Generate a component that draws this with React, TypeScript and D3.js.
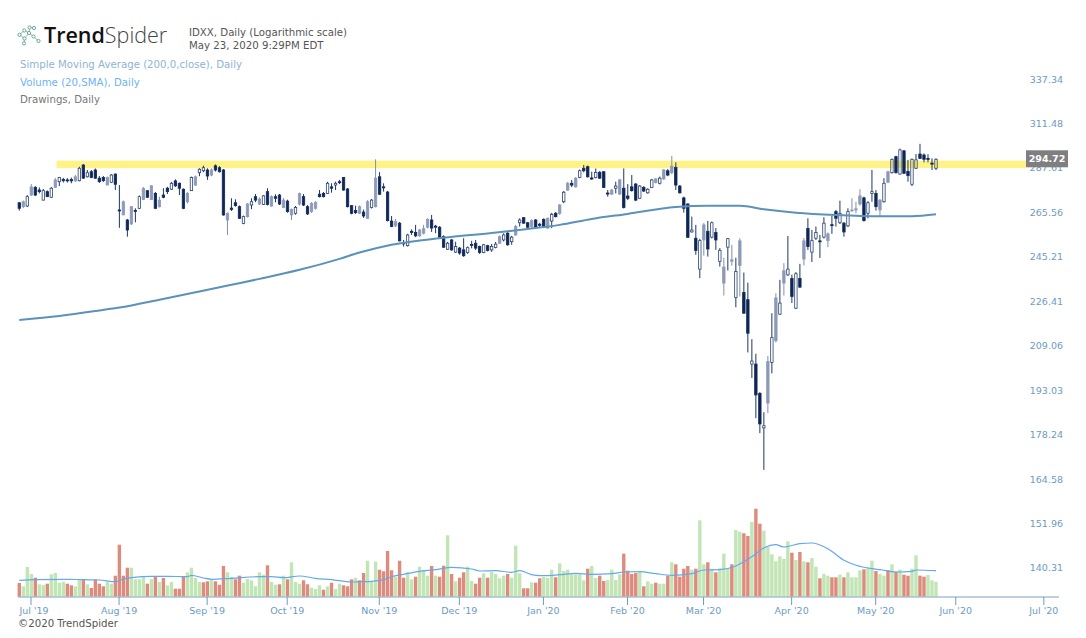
import { useEffect, useRef } from 'react';
import * as d3 from 'd3';

const width = 1086
const height = 638
const font = '"DejaVu Sans", sans-serif'

const priceTicks = [337.34, 311.48, 287.61, 265.56, 245.21, 226.41, 209.06, 193.03, 178.24, 164.58, 151.96, 140.31]
const monthLabels = ["Jul '19", "Aug '19", "Sep '19", "Oct '19", "Nov '19", "Dec '19", "Jan '20", "Feb '20", "Mar '20", "Apr '20", "May '20", "Jun '20", "Jul '20"]
const monthIndex = [3, 25, 47, 67, 90, 110, 131, 152, 171, 193, 214, 234, 256]

// drawn level (yellow band), price range
const levelTop = 294.0
const levelBottom = 290.1

const opens = [
  272.6, 270.7, 271.0, 276.4, 280.2, 278.9, 273.9, 278.1, 275.3, 280.2,
  283.1, 284.3, 284, 284.2, 283.5, 283.6, 291.7, 285.6, 288.2, 289.1,
  284.9, 285.2, 281.4, 282.8, 287, 269.1, 266.7, 264.3, 262.4, 268.9,
  269.9, 274.2, 278.6, 274.2, 277.2, 270.7, 276.4, 279.8, 279.3, 283.5,
  282.3, 279.3, 273.1, 278.6, 281.4, 287.7, 288.7, 289.1, 286.5, 291.3,
  290.3, 289.1, 264.3, 270, 272.6, 270.7, 262.7, 265.9, 271.5, 275.6,
  272, 271.8, 278.1, 271, 275.6, 276.4, 270.3, 273.4, 266.7, 267.5,
  272, 275.6, 270.7, 268.3, 269.9, 276.8, 277.2, 277.2, 280.5, 281.4,
  283.1, 285.2, 279.4, 271.2, 268.9, 267.5, 268.1, 265.1, 270.3, 270.7,
  285.6, 280.5, 277.9, 263.8, 261.5, 262.8, 253.7, 252.4, 259, 258.4,
  256.9, 258.1, 260.9, 264.3, 261.4, 260.9, 256.5, 250.8, 255, 249.5,
  251.3, 250.5, 249.3, 252.9, 253.5, 252, 249.3, 252.4, 250.5, 251.6,
  253.5, 255, 258.1, 254.2, 257.3, 263, 265.4, 263, 261.2, 264.3,
  262.3, 264.6, 260.5, 263.8, 267.5, 267.5, 273.1, 278.9, 282.3, 280.5,
  285.3, 290, 290.8, 285, 285.2, 287.9, 288.2, 277.4, 276.9, 279.8,
  276.9, 279.8, 275.9, 280.5, 281.9, 274.8, 280.2, 277.5, 280.2, 282.7,
  282.3, 284.5, 288.7, 287.7, 290.5, 280.9, 275, 272, 258.7, 255.8,
  242, 255, 259, 256.3, 258.4, 245.4, 236, 251.7, 245.4, 230,
  243.6, 232.1, 229.1, 204.1, 204.1, 193.6, 182, 190.3, 204.7, 212.8,
  223.2, 236, 239.5, 238, 225.6, 238, 246.4, 260.3, 249.5, 255.8,
  254.6, 256.3, 254.7, 262.1, 268.3, 263, 262.8, 261.5, 268.6, 269.1,
  272, 275, 267.5, 277.2, 277.2, 269.1, 273.1, 282.8, 287.7, 296.1,
  287, 299.2, 288.4, 281.8, 290, 297.5, 297, 295.2, 292.7, 290,
]

const highs = [
  272.9, 273.7, 276.4, 281.9, 280.9, 280.2, 279.4, 278.7, 280.4, 285,
  285.5, 285, 284.9, 285.2, 286.5, 290.8, 292.2, 289.1, 289.1, 289.9,
  286, 286, 285.7, 287, 287.3, 281.4, 273.7, 264.8, 271, 269.9,
  276.2, 280.4, 278.9, 281.4, 277.9, 275.6, 279.8, 280.5, 283, 284.3,
  282.7, 279.7, 277.9, 285.7, 286.2, 290, 291.4, 290, 290, 292,
  291.1, 289.6, 267.9, 274.8, 274.3, 271.3, 266.4, 272.4, 274.8, 276.9,
  275.2, 276.4, 279.8, 276.2, 276.8, 276.9, 274.9, 274.1, 269.8, 271,
  277.6, 276.9, 271.5, 272.9, 273.4, 278.9, 277.9, 283, 282.3, 283.1,
  284, 285.5, 279.9, 271.5, 271.2, 271.3, 269.3, 273.9, 274.4, 294.7,
  288, 282.3, 278.4, 266.2, 264.8, 263.4, 255, 257.8, 259.9, 262,
  260.1, 262, 265.2, 266.7, 262, 261.4, 257.1, 254.1, 255.5, 254.2,
  251.8, 255.8, 252, 254.6, 255, 252.4, 253.2, 252.8, 253.2, 254.1,
  257.1, 258, 258.7, 256.9, 262, 265.1, 265.7, 263.4, 264.6, 264.8,
  263, 265.1, 265.5, 267.7, 268.1, 272, 278.4, 283, 284, 285.5,
  289.4, 291.7, 291.4, 288.2, 289.9, 288.6, 288.6, 278.9, 279.4, 283.1,
  284.5, 289.9, 281.9, 286.5, 282.4, 281.4, 280.9, 279.8, 284.5, 285,
  285.7, 289.6, 289.6, 296.5, 293.1, 281.4, 275.6, 272.3, 265.9, 262,
  255.5, 262.9, 263.9, 263.6, 260.5, 251.3, 247, 255.9, 252.8, 247,
  255.8, 240.5, 236.2, 213.4, 207.9, 194.1, 187.2, 207.1, 223.6, 231.7,
  237.4, 244.6, 256.8, 239.6, 240.7, 244.3, 255.9, 265.1, 259.6, 261.2,
  257.3, 265.6, 258.5, 266.2, 269.1, 273.6, 263.4, 269.9, 274.8, 273.1,
  279.3, 275.6, 273.4, 289.1, 278.9, 274.4, 284.9, 288.8, 295.1, 296.6,
  300.4, 299.7, 294.4, 295.1, 297.5, 303, 297.8, 297.4, 295.2, 295.2,
]

const lows = [
  268.8, 270, 270.5, 275.9, 275.9, 277.2, 273.7, 275.4, 274.9, 279.9,
  280.9, 282.7, 282.7, 282.3, 283, 283.3, 284.5, 285.3, 284.9, 284.5,
  282.5, 283, 281.4, 282.4, 278.9, 260.6, 266.7, 256.5, 262, 263.2,
  269.5, 273.9, 274.9, 273.9, 269.5, 270.3, 274.8, 276.9, 278.9, 280.5,
  276.4, 269.5, 272.3, 278.4, 281, 285.9, 288, 284, 285.9, 288.3,
  287.8, 266.4, 257.3, 268.6, 270.7, 264.8, 262.3, 265.5, 269.5, 272.9,
  271.5, 271.5, 271.3, 270.7, 272.8, 271.5, 270, 267.8, 264.3, 266.8,
  271.3, 271, 266.7, 267.7, 269.3, 275.2, 275.2, 276.9, 277.6, 278.9,
  281.9, 278.6, 270.3, 267, 267.2, 267.2, 265.3, 264.8, 269.8, 270.3,
  276.4, 278.1, 263.6, 260.9, 261, 254.3, 252, 252, 257.3, 256.3,
  256.4, 257.5, 260.3, 258.7, 258.1, 256, 251.4, 250.5, 250.1, 249.1,
  248.3, 247.4, 248.7, 251.2, 250.5, 248.7, 249, 249.8, 249.6, 251.2,
  253.2, 254.3, 252.4, 252.8, 256.9, 261.2, 262.5, 259.9, 260.5, 260.5,
  260.5, 260.5, 260.1, 260.5, 265.5, 266.7, 272.4, 278.4, 280.4, 280.1,
  284.9, 287.9, 285.2, 284, 284.8, 284.5, 279.9, 275.6, 276.4, 277.2,
  276.4, 269.8, 273.9, 278.1, 273.4, 274.4, 277.9, 277.1, 279.9, 282.2,
  281.7, 284, 285.9, 286.9, 278.9, 277.1, 267.8, 255.9, 258.4, 248.3,
  238.1, 247.9, 247.5, 255.7, 250.5, 243.1, 230.8, 241.4, 243.5, 226,
  230.4, 223.3, 208.4, 199.1, 185.2, 180.3, 168.8, 186.9, 200.7, 212.2,
  222.9, 230.8, 239.1, 227.7, 225.3, 234, 243.6, 250.5, 245.1, 255,
  246.9, 255.7, 251.7, 257.8, 261.2, 262.4, 256.5, 261, 268.3, 267.5,
  271.2, 263.6, 265.1, 273.1, 268.8, 266.2, 272.7, 282.5, 287.3, 287.3,
  286.7, 287, 283.1, 280.9, 289.6, 294.9, 293.1, 293.1, 289.1, 289.1,
]

const closes = [
  269.9, 273.1, 275.6, 280.5, 276.4, 278.1, 278.6, 275.6, 279.8, 284.0,
  285.2, 283.6, 283.5, 283.5, 285.6, 290, 284.9, 287.7, 285.2, 284.9,
  283.1, 283.6, 285.2, 286.5, 281.8, 268.8, 273.1, 259.6, 270.7, 268.4,
  275.6, 279.8, 275.3, 281, 269.9, 273.9, 275.3, 278.1, 282.3, 281,
  279.8, 269.9, 277.2, 285.3, 285.6, 289.5, 290.3, 286, 289.1, 289.1,
  288.2, 266.7, 267.5, 269.4, 271.2, 265.1, 265.9, 272, 273.1, 273.9,
  274.4, 276, 271.8, 275.6, 274.8, 272, 273.9, 268.3, 269.4, 270.3,
  277.2, 271.5, 267.2, 272.3, 272.8, 275.6, 275.6, 282.3, 279.8, 282.3,
  282.7, 278.9, 270.7, 267.5, 267.8, 270.7, 266.2, 273.1, 273.9, 284.9,
  276.8, 280, 264, 261.2, 263.5, 254.6, 253.2, 257.3, 258.4, 256.9,
  259.6, 260.2, 264.6, 260.5, 260.9, 256.3, 251.7, 253.5, 250.5, 252,
  249.1, 247.9, 251.5, 252.5, 251.3, 249.3, 252.8, 250.2, 252, 253.1,
  256.5, 257.3, 252.8, 256.3, 261.2, 264.3, 262.8, 260.9, 264, 260.9,
  261.8, 260.9, 265.1, 267, 265.9, 271.5, 277.8, 282.3, 281.4, 284.9,
  288.7, 288.7, 285.6, 284.5, 287.9, 284.9, 280.2, 276.9, 278.9, 280.9,
  284, 270.3, 274.8, 278.6, 273.9, 280.9, 278.4, 279.3, 284, 284.5,
  284.9, 289.1, 286.5, 291.1, 281.4, 277.5, 269.9, 256.2, 259.6, 250.2,
  254.7, 262, 250.9, 263, 255, 250.3, 242.9, 255.6, 246.1, 241,
  254.6, 223.6, 215.7, 205.2, 193.1, 183.3, 182.7, 205, 214, 229.8,
  227.7, 241.3, 242, 230.4, 240, 234.3, 254.6, 252, 254.7, 258.4,
  254.2, 262.8, 257.8, 261.8, 265.1, 267.5, 258.7, 268.3, 269.1, 269.7,
  276, 264, 272.6, 278.1, 270.7, 273.9, 282.3, 288.2, 294.7, 287.7,
  299.7, 287.4, 286.2, 294.7, 294.4, 295.2, 294.7, 294.9, 292.2, 294.72,
]

// candles that read as washed out grey in the picture
const softCandles = [
  1, 3, 9, 14, 22, 26, 28, 31, 33, 35, 42, 44, 48, 52, 57, 60, 63, 66, 68, 70, 73, 74, 85, 87, 89, 94,
  100, 101, 102, 120, 124, 128, 132, 135, 137, 139, 148, 150, 159, 161, 163, 171, 176, 178, 180, 187,
  189, 191, 196, 202, 208, 209, 210, 215, 217,
]

// thousands of shares
const volumes = [
  140, 107, 300, 230, 193, 127, 120, 133, 227, 240,
  143, 153, 133, 117, 107, 177, 177, 127, 90, 177,
  133, 107, 150, 133, 213, 523, 213, 293, 293, 177,
  177, 207, 133, 180, 200, 150, 190, 117, 150, 83,
  83, 200, 247, 293, 190, 150, 147, 157, 177, 157,
  123, 310, 247, 200, 177, 213, 143, 180, 167, 107,
  247, 223, 317, 150, 123, 127, 213, 177, 347, 150,
  133, 167, 127, 93, 80, 117, 73, 107, 143, 80,
  133, 117, 107, 177, 193, 167, 240, 363, 150, 353,
  273, 257, 460, 267, 200, 363, 193, 247, 177, 203,
  303, 273, 213, 310, 213, 203, 313, 617, 230, 157,
  193, 247, 303, 160, 133, 193, 237, 193, 250, 230,
  187, 213, 230, 193, 513, 237, 87, 87, 147, 143,
  187, 200, 190, 273, 197, 337, 260, 273, 227, 227,
  227, 167, 283, 310, 190, 213, 160, 170, 273, 170,
  227, 433, 263, 230, 240, 250, 107, 157, 133, 143,
  133, 133, 213, 347, 327, 203, 283, 310, 273, 283,
  767, 327, 347, 283, 247, 287, 433, 283, 327, 670,
  653, 637, 610, 750, 883, 733, 663, 500, 427, 357,
  407, 380, 557, 443, 370, 450, 357, 347, 390, 303,
  187, 230, 213, 197, 197, 223, 197, 247, 197, 197,
  267, 277, 290, 363, 260, 230, 213, 267, 327, 253,
  273, 223, 213, 283, 417, 213, 203, 220, 167, 150,
]

// g = green bar, r = red bar
const volumeSides = (
  'rgggrggrgg' + 'ggrrggrgrr' + 'rrggrrrrgg' + 'ggrgrgrggr' + 'rrggggrrgr' +
  'rrggrrgggg' + 'ggrggrgrgg' + 'grrgggrgrg' + 'grrrgrrggg' + 'rrrrgrrggr' +
  'gggrgrrgrg' + 'rrggrrgrgg' + 'ggrgggrrgr' + 'rgggrggggg' + 'ggrggrrggg' +
  'grrrrgrggr' + 'ggrgrrrrgr' + 'ggrgrgggrg' + 'grrgrrgggg' + 'gggrgrgrgg' +
  'rggrrgrggg' + 'grggrggrgr' + 'grrggrrggg'
).split('')

const smaIndex = [0, 10, 20, 25, 35, 45, 53, 60, 70, 80, 85, 93, 106, 118, 127, 135, 143, 152, 164, 172, 180, 186, 194, 204, 215, 223, 229]
const smaValues = [220.9, 222.5, 224.7, 225.9, 229.1, 232.5, 235.3, 237.8, 241.7, 246.5, 249.3, 252.8, 256.0, 258.2, 260.1, 262.0, 264.8, 267.2, 270.5, 271.1, 271.1, 269.4, 267.8, 266.7, 266.1, 266.1, 267.0]

const volSmaIndex = [
  0, 4, 12, 16, 20, 24, 26, 28, 33, 37, 42, 43, 46, 48, 53, 60, 63, 66, 70, 74, 78, 83, 85,
  88, 91, 93, 96, 100, 104, 108, 113, 115, 119, 123, 125, 128, 130, 135, 139, 143, 148, 151, 155, 159, 163, 168, 169, 171,
  175, 179, 183, 186, 189, 191, 195, 198, 202, 206, 209, 213, 215, 219, 223, 224, 229,
]
const volSmaValues = [
  167, 173, 177, 173, 170, 153, 180, 193, 207, 207, 203, 217, 190, 177, 187, 203, 203, 193, 210, 187, 173, 150, 153,
  157, 173, 203, 227, 257, 273, 297, 280, 260, 263, 247, 263, 223, 213, 223, 237, 227, 233, 250, 253, 233, 217, 233, 247, 270,
  273, 310, 403, 490, 523, 500, 533, 540, 483, 367, 317, 283, 273, 250, 257, 270, 263,
]

const logoNodes = [
  [19.5, 34.8], [24.3, 30.5], [24.5, 38.5], [24, 43.5], [29, 33], [29.5, 27.5], [33.5, 36.5], [34, 28], [38.5, 41],
]
const logoLinks = [[0, 1], [0, 2], [2, 3], [1, 4], [4, 5], [5, 7], [4, 6], [6, 8], [2, 4]]

const CandleChart = () => {
  const d3svg = useRef<SVGSVGElement | null>(null)

  useEffect(() => {
    if (!d3svg.current) return
    const svg = d3.select(d3svg.current)
    svg.selectAll('*').remove()

    const x = d3.scaleLinear().domain([0, 229]).range([19.3, 936])
    const y = d3.scaleLog().domain([164.58, 337.34]).range([484, 84])
    const vol = d3.scaleLinear().domain([0, 890]).range([597, 508])
    const idx = d3.range(opens.length)
    const soft = new Set(softCandles)

    // level band
    svg.append('rect')
      .attr('x', 56.5).attr('width', 1026 - 56.5)
      .attr('y', y(levelTop)).attr('height', y(levelBottom) - y(levelTop))
      .attr('fill', '#fff388')

    // price axis labels
    svg.append('g').selectAll('text').data(priceTicks).enter().append('text')
      .attr('x', 1063).attr('y', d => y(d) - 5)
      .attr('text-anchor', 'end').attr('dominant-baseline', 'central')
      .attr('font-size', 9.5).attr('fill', '#6d9bc3').attr('font-family', font)
      .text(d => d.toFixed(2))

    // volume
    svg.append('g').selectAll('rect').data(idx).enter().append('rect')
      .attr('x', i => x(i) - 1.7)
      .attr('width', 3.4)
      .attr('y', i => vol(volumes[i]))
      .attr('height', i => vol(0) - vol(volumes[i]))
      .attr('fill', i => volumeSides[i] === 'g' ? '#c2e5b6' : '#dd8b7c')

    const volLine = d3.line<number>()
      .x((_, k) => x(volSmaIndex[k]))
      .y(d => vol(d))
      .curve(d3.curveMonotoneX)
    svg.append('path').attr('d', volLine(volSmaValues))
      .attr('fill', 'none').attr('stroke', '#62a9ee').attr('stroke-width', 1.2)

    // candles
    const candles = svg.append('g').selectAll('g').data(idx).enter().append('g')
    candles.append('path')
      .attr('d', i => {
        const top = y(Math.max(opens[i], closes[i]))
        const bot = y(Math.min(opens[i], closes[i]))
        return `M${x(i)},${y(highs[i])}V${top}M${x(i)},${bot}V${y(lows[i])}`
      })
      .attr('fill', 'none')
      .attr('stroke-width', 1)
      .attr('stroke', i => soft.has(i) ? '#7f8fae' : '#1c3766')
    candles.append('rect')
      .attr('x', i => x(i) - 1.2)
      .attr('width', 2.4)
      .attr('y', i => y(Math.max(opens[i], closes[i])))
      .attr('height', i => Math.max(1, Math.abs(y(opens[i]) - y(closes[i]))))
      .attr('fill', i => soft.has(i) ? '#8d9ab6' : closes[i] < opens[i] ? '#0e2757' : 'none')
      .attr('stroke', i => soft.has(i) ? '#8d9ab6' : closes[i] < opens[i] ? '#0e2757' : '#2b4470')
      .attr('stroke-width', 0.8)

    // 200 day average
    const smaLine = d3.line<number>()
      .x((_, k) => x(smaIndex[k]))
      .y(d => y(d))
      .curve(d3.curveMonotoneX)
    svg.append('path').attr('d', smaLine(smaValues))
      .attr('fill', 'none').attr('stroke', '#5a92bb').attr('stroke-width', 2)

    // last price tag
    const lastY = y(closes[closes.length - 1])
    svg.append('rect').attr('x', 1026).attr('y', lastY - 9).attr('width', 42).attr('height', 17).attr('fill', '#7f7f7f')
    svg.append('text').attr('x', 1047).attr('y', lastY - 0.5)
      .attr('text-anchor', 'middle').attr('dominant-baseline', 'central')
      .attr('font-size', 9.5).attr('font-weight', 600).attr('fill', '#fff').attr('font-family', font)
      .text(closes[closes.length - 1].toFixed(2))

    // time axis
    svg.append('line').attr('x1', 18).attr('x2', 1059).attr('y1', 597).attr('y2', 597)
      .attr('stroke', '#a9bfd3').attr('stroke-width', 1.6)
    const tickX = d3.scaleLinear().domain([3, 214]).range([31, 875.7])
    const ticks = svg.append('g').selectAll('g').data(monthIndex).enter().append('g')
    ticks.append('line')
      .attr('x1', d => tickX(d)).attr('x2', d => tickX(d))
      .attr('y1', 597).attr('y2', 605)
      .attr('stroke', '#6d9bc3').attr('stroke-width', 1)
    ticks.append('text')
      .attr('x', d => Math.max(tickX(d), 34)).attr('y', 610)
      .attr('text-anchor', 'middle').attr('dominant-baseline', 'central')
      .attr('font-size', 9.5).attr('fill', '#6d9bc3').attr('font-family', font)
      .text((_, k) => monthLabels[k])

    // header
    const logo = svg.append('g')
    logo.selectAll('line').data(logoLinks).enter().append('line')
      .attr('x1', d => logoNodes[d[0]][0]).attr('y1', d => logoNodes[d[0]][1])
      .attr('x2', d => logoNodes[d[1]][0]).attr('y2', d => logoNodes[d[1]][1])
      .attr('stroke', '#6aa99b').attr('stroke-width', 0.8)
    logo.selectAll('circle').data(logoNodes).enter().append('circle')
      .attr('cx', d => d[0]).attr('cy', d => d[1]).attr('r', 1.6)
      .attr('fill', '#fff').attr('stroke', '#5f9e8f').attr('stroke-width', 0.9)

    const brand = svg.append('text').attr('x', 44).attr('y', 43)
      .attr('font-family', '"Open Sans", sans-serif').attr('font-size', 21.5)
    brand.append('tspan').attr('font-weight', 600).attr('fill', '#111').text('Trend')
    brand.append('tspan').attr('font-weight', 300).attr('fill', '#444').text('Spider')

    const texts: [string, number, number, string][] = [
      ['IDXX, Daily (Logarithmic scale)', 189, 32, '#555'],
      ['May 23, 2020 9:29PM EDT', 189, 45, '#555'],
      ['Simple Moving Average (200,0,close), Daily', 20, 64.5, '#8fb4d4'],
      ['Volume (20,SMA), Daily', 20, 82, '#6db4f2'],
      ['Drawings, Daily', 20, 99.5, '#777'],
      ['\u00a92020 TrendSpider', 18, 623, '#555'],
    ]
    svg.append('g').selectAll('text').data(texts).enter().append('text')
      .attr('x', d => d[1]).attr('y', d => d[2])
      .attr('dominant-baseline', 'central')
      .attr('font-size', 10.2).attr('font-family', font).attr('fill', d => d[3])
      .text(d => d[0])
  }, [])

  return (
    <svg
      ref={d3svg}
      width={width}
      height={height}
      role="img"
      style={{ position: 'absolute', left: 0, top: 0, background: '#fff' }}
    ></svg>
  )
}

export default function App() {
  return <CandleChart />
}
